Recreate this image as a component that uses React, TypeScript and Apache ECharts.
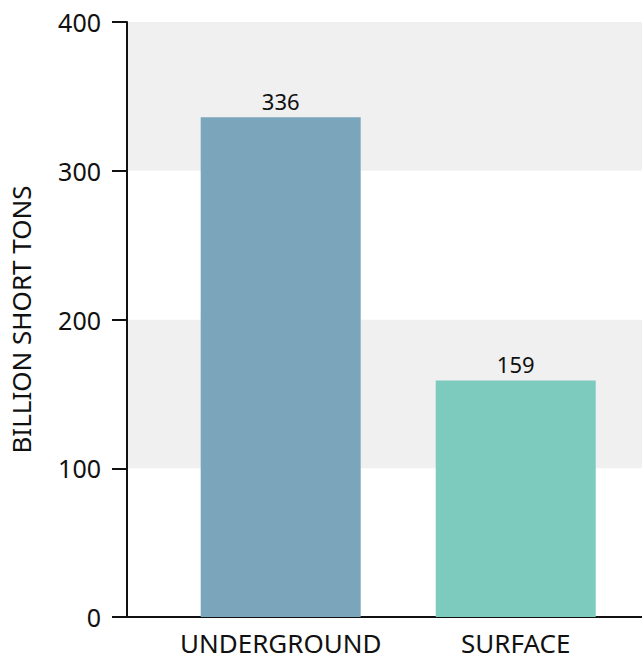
import React, { useEffect, useRef } from "react";
import * as echarts from "echarts";

const categories = ["UNDERGROUND", "SURFACE"];
const values = [336, 159];
const barColors = ["#7ba5bb", "#7dcbbf"];
const yTicks = [0, 100, 200, 300, 400];
const yAxisTitle = "BILLION SHORT TONS";

export default function App() {
  const ref = useRef<HTMLDivElement>(null);
  useEffect(() => {
    if (!ref.current) return;
    const chart = echarts.init(ref.current, null, { renderer: "svg" });
    const font = "'Noto Sans', sans-serif";
    chart.setOption({
      animation: false,
      grid: { left: 126, right: 0, top: 22, bottom: 43 },
      xAxis: {
        type: "value",
        min: 0.3461,
        max: 2.5372,
        axisLine: { show: true, onZero: false, lineStyle: { color: "#111", width: 2 } },
        axisTick: { show: false },
        splitLine: { show: false },
        axisLabel: {
          customValues: categories.map((_, i) => i + 1),
          formatter: (v: number) => categories[Math.round(v) - 1] ?? "",
          color: "#111",
          fontSize: 26,
          fontFamily: font,
          margin: 13,
        },
      },
      yAxis: {
        type: "value",
        min: yTicks[0],
        max: yTicks[yTicks.length - 1],
        interval: 100,
        name: yAxisTitle,
        nameLocation: "middle",
        nameGap: 93,
        nameRotate: 90,
        nameTextStyle: { color: "#111", fontSize: 26, fontFamily: font },
        axisLine: { show: true, lineStyle: { color: "#111", width: 2 } },
        axisTick: { show: true, length: 15, lineStyle: { color: "#111", width: 2 } },
        axisLabel: { color: "#111", fontSize: 25, fontFamily: font, margin: 26 },
        splitLine: { show: false },
        splitArea: { show: true, areaStyle: { color: ["#ffffff", "#f0f0f0"] } },
      },
      series: [
        {
          type: "bar",
          barWidth: 160,
          data: values.map((v, i) => ({
            value: [i + 1, v],
            itemStyle: { color: barColors[i] },
          })),
          label: {
            show: true,
            position: "top",
            distance: 5,
            color: "#111",
            fontSize: 22,
            fontFamily: font,
            formatter: (p: any) => String(p.value[1]),
          },
        },
      ],
    });
    return () => chart.dispose();
  }, []);
  return <div ref={ref} style={{ width: 642, height: 660, position: "absolute", left: 0, top: 0 }} />;
}
